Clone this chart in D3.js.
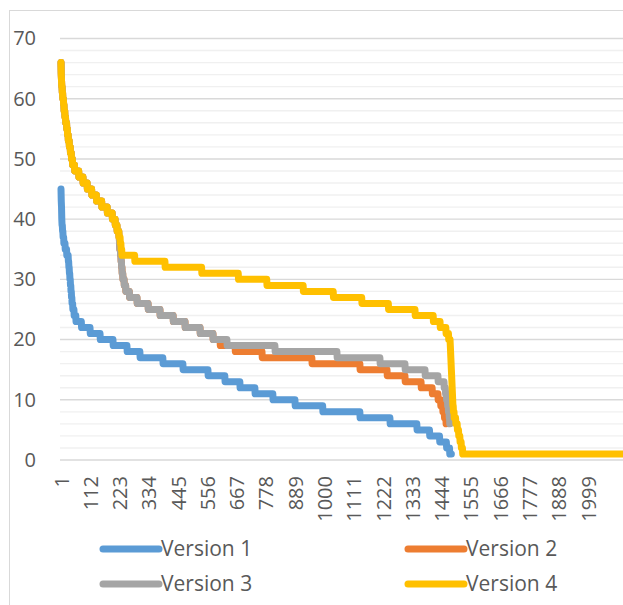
<!DOCTYPE html>
<html><head><meta charset="utf-8">
<script src="https://cdn.jsdelivr.net/npm/d3@7/dist/d3.min.js"></script>
<style>
body{margin:0;background:#fff}
svg{display:block}
text{font-family:"Open Sans",sans-serif;fill:#595959}
</style>
</head><body>
<svg id="chart" width="623" height="605"></svg>
<script>
// ---- data ----
const seriesNames  = ["Version 1", "Version 2", "Version 3", "Version 4"];
const seriesColors = ["#5B9BD5", "#ED7D31", "#A5A5A5", "#FFC000"];
const categoryCount = 2150;
const xTickLabels = [1,112,223,334,445,556,667,778,889,1000,1111,1222,1333,1444,1555,1666,1777,1888,1999];
const yTickValues = [0,10,20,30,40,50,60,70];
const yGridValues = d3.range(0, 71, 2);

// each run: [value, last category index of that value]
const version1Runs = [[45,1],[43,2],[42,3],[40,4],[39,6],[38,8],[37,11],[36,16],[35,22],[34,28],[33,30],[32,32],[31,34],[30,36],[29,38],[28,40],[27,42],[26,45],[25,50],[24,57],[23,78],[22,111],[21,149],[20,198],[19,251],[18,300],[17,387],[16,463],[15,558],[14,622],[13,679],[12,736],[11,804],[10,888],[9,993],[8,1134],[7,1248],[6,1350],[5,1398],[4,1436],[3,1462],[2,1474],[1,1481]];
const version2Runs = [[66,1],[64,2],[63,3],[62,5],[61,7],[60,10],[59,12],[58,15],[57,18],[56,22],[55,25],[54,28],[53,32],[52,36],[51,40],[50,44],[49,52],[48,68],[47,84],[46,100],[45,117],[44,135],[43,155],[42,176],[41,195],[40,206],[39,213],[38,220],[37,222],[36,223],[35,226],[34,228],[33,230],[32,232],[31,235],[30,240],[29,246],[28,260],[27,289],[26,331],[25,376],[24,426],[23,471],[22,528],[21,577],[20,604],[19,661],[18,763],[17,952],[16,1134],[15,1237],[14,1305],[13,1366],[12,1408],[11,1430],[10,1440],[9,1448],[8,1454],[7,1460],[6,1462]];
const version3Runs = [[66,1],[64,2],[63,3],[62,5],[61,7],[60,10],[59,12],[58,15],[57,18],[56,22],[55,25],[54,28],[53,32],[52,36],[51,40],[50,44],[49,52],[48,68],[47,84],[46,100],[45,117],[44,135],[43,155],[42,176],[41,195],[40,206],[39,213],[38,220],[37,222],[36,223],[35,226],[34,228],[33,230],[32,232],[31,235],[30,240],[29,246],[28,260],[27,289],[26,331],[25,376],[24,426],[23,471],[22,528],[21,577],[20,630],[19,812],[18,1047],[17,1210],[16,1305],[15,1381],[14,1430],[13,1453],[12,1458],[11,1462],[10,1466],[9,1469],[8,1472],[7,1474],[6,1476]];
const version4Runs = [[66,1],[64,2],[63,3],[62,5],[61,7],[60,10],[59,12],[58,15],[57,18],[56,22],[55,25],[54,28],[53,32],[52,36],[51,40],[50,44],[49,52],[48,68],[47,84],[46,100],[45,117],[44,135],[43,155],[42,176],[41,195],[40,206],[39,213],[38,220],[37,225],[36,228],[35,231],[34,280],[33,395],[32,534],[31,673],[30,781],[29,919],[28,1033],[27,1141],[26,1242],[25,1343],[24,1412],[23,1438],[22,1460],[21,1470],[20,1476],[19,1477],[18,1478],[17,1479],[16,1480],[15,1481],[14,1482],[13,1483],[12,1484],[11,1485],[10,1486],[9,1488],[8,1491],[7,1497],[6,1503],[5,1508],[4,1513],[3,1518],[2,1523],[1,2150]];
const seriesRuns = [version1Runs, version2Runs, version3Runs, version4Runs];

// expand runs (value, last index) into one point per category
function expand(runs) {
  const pts = [];
  let i = 1;
  for (const [v, end] of runs) {
    for (; i <= end; i++) pts.push([i, v]);
  }
  return pts;
}

// ---- layout ----
const svg = d3.select("#chart");
const plotLeft = 60, plotRight = 640, plotTop = 38.5, plotBottom = 460;

svg.append("rect").attr("x", 0).attr("y", 0).attr("width", 623).attr("height", 605).attr("fill", "#fff");
svg.append("rect").attr("x", 9.5).attr("y", 10.5).attr("width", 700).attr("height", 700)
  .attr("fill", "none").attr("stroke", "#d9d9d9").attr("stroke-width", 1);

const x = d3.scaleLinear().domain([1, 1999]).range([61, 588]);
const y = d3.scaleLinear().domain([0, 70]).range([plotBottom, plotTop]);

// gridlines
svg.append("g").selectAll("line").data(yGridValues.filter(v => v % 10 !== 0)).join("line")
  .attr("x1", plotLeft).attr("x2", plotRight)
  .attr("y1", d => y(d)).attr("y2", d => y(d))
  .attr("stroke", "#f0f0f0").attr("stroke-width", 1.4);
svg.append("g").selectAll("line").data(yTickValues).join("line")
  .attr("x1", plotLeft).attr("x2", plotRight)
  .attr("y1", d => y(d)).attr("y2", d => y(d))
  .attr("stroke", "#d9d9d9").attr("stroke-width", 1.4);

// y axis labels
const yAxis = d3.axisLeft(y).tickValues(yTickValues).tickSize(0).tickPadding(0);
const yg = svg.append("g").attr("transform", "translate(36,0)").call(yAxis);
yg.select(".domain").remove();
yg.selectAll("text").attr("font-size", 20).attr("font-family", '"Open Sans",sans-serif').attr("fill", "#595959");

// x axis labels (rotated)
const xAxis = d3.axisBottom(x).tickValues(xTickLabels).tickSize(0).tickFormat(d3.format("d"));
const xg = svg.append("g").attr("transform", "translate(0,476)").call(xAxis);
xg.select(".domain").remove();
xg.selectAll("text")
  .attr("font-size", 20).attr("font-family", '"Open Sans",sans-serif').attr("fill", "#595959")
  .attr("y", 0).attr("dy", "0.35em").attr("x", 0)
  .attr("transform", "rotate(-90)").attr("text-anchor", "end");

// lines
const line = d3.line().x(d => x(d[0])).y(d => y(d[1]));
svg.append("g").selectAll("path").data(seriesRuns.map(expand)).join("path")
  .attr("d", line)
  .attr("fill", "none")
  .attr("stroke", (d, i) => seriesColors[i])
  .attr("stroke-width", 7)
  .attr("stroke-linejoin", "round")
  .attr("stroke-linecap", "round");

// legend
const legendPos = [[103, 549], [408, 549], [103, 584], [408, 584]];
const lg = svg.append("g").selectAll("g").data(seriesNames).join("g")
  .attr("transform", (d, i) => `translate(${legendPos[i][0]},${legendPos[i][1]})`);
lg.append("line").attr("x1", 0).attr("x2", 56).attr("y1", 0).attr("y2", 0)
  .attr("stroke", (d, i) => seriesColors[i]).attr("stroke-width", 7).attr("stroke-linecap", "round");
lg.append("text").attr("x", 58).attr("y", 0).attr("dy", "0.35em")
  .attr("font-size", 21).text(d => d);
</script>
</body></html>
